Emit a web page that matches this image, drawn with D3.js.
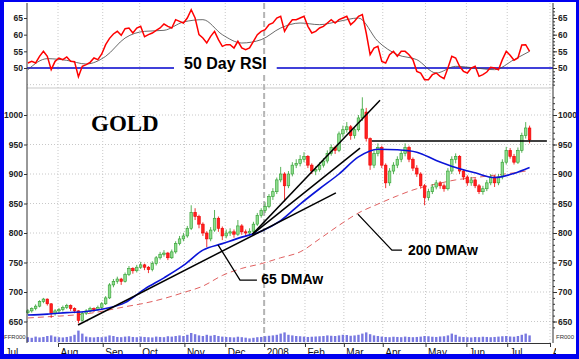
<!DOCTYPE html>
<html><head><meta charset="utf-8">
<script src="https://cdn.jsdelivr.net/npm/d3@7"></script>
<style>body{margin:0;background:#fff}svg{display:block}</style>
</head><body>
<svg id="c" width="579" height="359" font-family="Arial, 'Liberation Sans', sans-serif"></svg>
<script>
// ---------- DATA ----------
const monthDays   = [-21, 0, 23, 42, 65, 86, 106, 127, 147, 167, 189, 210, 231, 253]; // trading-day index (0 = 1 Aug 2007)
const monthLabels = ["Jul","Aug","Sep","Oct","Nov","Dec","2008","Feb","Mar","Apr","May","Jun","Jul","Aug"];
const yearDay = 106;
const priceTicks = [650, 700, 750, 800, 850, 900, 950, 1000];
const rsiTicks = [50, 55, 60, 65];
const firstDay = -16;   // each bar = 2 trading days
const barDays = 2;

const open  = [665,668,672,676,684,688,680,664,668,670,674,677,672,668,652,664,668,672,670,674,
               680,690,712,718,722,718,730,740,736,742,746,742,738,748,758,764,766,758,768,782,
               790,795,808,835,828,815,800,790,805,825,808,795,800,802,798,812,802,800,803,815,
               830,838,845,862,870,890,900,880,900,915,918,925,930,915,905,908,915,922,935,945,
               940,968,975,980,965,975,995,1005,960,915,935,945,915,885,905,915,925,935,945,925,
               910,900,880,860,870,878,885,880,875,905,925,930,905,895,885,890,880,870,875,885,
               895,885,895,920,940,930,920,940,965,978];
const high  = [671,674,679,686,690,689,681,671,673,677,680,679,674,669,667,671,675,674,677,683,
               693,715,722,726,724,733,744,742,746,751,748,744,752,761,768,771,768,772,786,795,
               800,812,847,842,831,818,803,810,839,828,811,806,808,806,822,815,806,808,819,834,
               842,852,866,876,894,912,903,905,920,925,932,937,932,918,913,920,927,940,950,948,
               972,982,988,983,980,1000,1030,1012,962,940,952,948,918,910,920,930,940,952,948,928,
               915,903,883,875,883,890,888,884,910,930,935,932,908,898,895,893,883,880,890,900,
               898,900,925,946,944,934,945,970,988,982];
const low   = [662,665,669,674,681,677,656,660,664,667,671,668,664,647,650,661,665,666,668,671,
               678,688,708,714,712,716,727,731,733,739,737,732,735,745,755,760,754,756,765,779,
               786,792,805,822,808,795,776,786,802,802,788,791,795,792,795,797,794,796,800,812,
               826,834,842,856,866,886,853,876,896,910,913,920,910,900,898,904,911,918,931,934,
               937,962,970,958,960,972,990,955,907,910,930,910,876,880,900,910,920,930,920,905,
               895,875,847,855,866,874,875,870,872,900,918,900,890,880,880,876,866,865,871,881,
               878,881,891,916,926,916,917,936,960,952];
const close = [668,672,676,684,688,680,664,668,670,674,677,672,668,652,664,668,672,670,674,680,
               690,712,718,722,718,730,740,736,742,746,742,738,748,758,764,766,758,768,782,790,
               795,808,835,828,815,800,790,805,825,808,795,800,802,798,812,802,800,803,815,830,
               838,845,862,870,890,900,880,900,915,918,925,930,915,905,908,915,922,935,945,940,
               968,975,980,965,975,995,1010,960,915,935,945,915,885,905,915,925,935,945,925,910,
               900,880,860,870,878,885,880,875,905,925,930,905,895,885,890,880,870,875,885,895,
               885,895,920,940,930,920,940,965,978,958];
const volume = [40,35,45,38,42,50,55,45,40,38, 42,48,60,95,70,45,40,38,42,40,
                45,55,50,42,40,45,48,42,40,45, 42,40,38,45,42,40,48,45,50,55,
                50,60,75,65,55,50,60,52,58,50, 45,42,40,38,44,40,36,30,35,40,
                42,48,52,55,60,70,80,60,55,50, 48,45,42,44,46,48,50,55,52,50,
                55,60,58,52,55,60,70,80,65,55, 50,45,42,40,44,42,40,45,42,40,
                42,45,50,48,44,42,46,48,55,70, 60,45,42,40,38,42,40,44,42,40,
                42,45,48,50,46,44,50,60,70,55];
const rsi = [51.5,52,51.5,53.5,55,53.5,49.5,52,53,52.5, 53.3,52,51.9,47.4,50.5,51,51.7,53,52.5,54.2,
             57,58.9,60.2,61,59.8,61.8,62,60.5,62,62.5, 59.4,60,60.5,61.3,62,63.2,62.5,62,64.5,64,
             63.5,65,67.5,65,60,59,57.5,59.5,61,58.5, 56.5,57,57,56,58,56,55.5,56,58,60,
             61,61.5,63,63.5,65,65.5,61,63,64.5,64.5, 65,65.5,62.5,60.5,61,62,62.5,63.5,64.5,63.5,
             64.5,65,65.5,63,64,65.5,66,60.5,54,56, 56.5,52,51.5,54,55,53.5,55,55,54,52.5,
             49,48.5,46.5,46.5,48,48.5,47.5,46.8,50,53.5, 53,50.5,49,48.5,50,50.5,47.5,48,48.8,50.2,
             50,49.5,52.5,55,53.8,52.3,53,56.9,57,55];
// smoothed series sampled at these bar numbers
const sampleBars = [0,5,10,15,20,25,30,35,40,45,50,55,60,65,70,75,80,85,90,95,100,105,110,115,120,125,129];
const rsiSignal  = [49.5,52.8,52.3,51.2,53.5,59,61,61.3,63.8,64.5,60,57.5,58.5,62,63.5,63,64,65,58,54,52.5,48.5,50.5,50,49.5,52.5,55];
const ma65  = [661,662.5,665,667,672,682,705,724,745,771,782,793,803,821,849,875,900,929,942,941,937,923,911,902,894,901,911];
const ma200 = [656,658,660,663,668.5,675,681,689,699,710,728,740,748,758,768,790,813,834,849,863,875,883,890,894,898,902,906];
// trend lines [day0, price0, day1, price1]
const trendLines = [[10.3,644,142.9,868],[100,798,155.3,944],[100,798,165.6,1025]];
const resistance = [161.4, 956, 251.4];
const ann65  = {pts:[[82.3,780],[93.6,720],[102.3,720]], text:"65 DMAw", at:[104.5,713.5]};
const ann200 = {pts:[[154.2,832],[171.7,771],[176.9,771]], text:"200 DMAw", at:[180,762.5]};

// ---------- SCALES ----------
const svg = d3.select("#c");
const L = 27, R = 553, TOP = 3, BOT = 343, SEP = 88;
const x = d3.scaleLinear().domain([0, 253]).range([58, 550]);
const yP = d3.scaleLinear().domain([650, 1000]).range([321.5, 115]);
const yR = d3.scaleLinear().domain([50, 65]).range([68, 18]);
const yV = d3.scaleLinear().domain([0, 100]).range([342, 330]);
const barX = k => x(firstDay + k*barDays + 0.5*(barDays-1));

svg.append("rect").attr("width",579).attr("height",359).attr("fill","#fff");
svg.append("defs").append("clipPath").attr("id","xclip").append("rect").attr("x",0).attr("y",330).attr("width",556).attr("height",29);

// ---------- GRID ----------
const grid = svg.append("g");
monthDays.forEach(d => {
  const xx = x(d); if (xx < L+1 || xx > R-1) return;
  const yr = d === yearDay;
  grid.append("line").attr("x1",xx).attr("x2",xx).attr("y1",TOP).attr("y2",BOT)
    .attr("stroke", yr ? "#b4b4b4" : "#c8c8c8").attr("stroke-width", yr ? 2 : 1)
    .attr("stroke-dasharray", yr ? "6,3" : "1,2");
});
priceTicks.forEach(v => grid.append("line").attr("x1",L).attr("x2",R).attr("y1",yP(v)).attr("y2",yP(v))
  .attr("stroke","#c8c8c8").attr("stroke-dasharray","1,2"));
[45].forEach(v => grid.append("line").attr("x1",L).attr("x2",R).attr("y1",yR(v)).attr("y2",yR(v))
  .attr("stroke","#c8c8c8").attr("stroke-dasharray","1,2"));
svg.append("line").attr("x1",L).attr("x2",R).attr("y1",SEP).attr("y2",SEP).attr("stroke","#bbb").attr("stroke-width",0.8);

// ---------- RSI PANEL ----------
const rsiG = svg.append("g");
rsiG.append("line").attr("x1",L).attr("x2",R).attr("y1",yR(50)).attr("y2",yR(50)).attr("stroke","#0000cc").attr("stroke-width",1.6);
rsiG.append("path").datum(rsiSignal).attr("fill","none").attr("stroke","#444").attr("stroke-width",0.8)
  .attr("d", d3.line().x((d,i)=>barX(sampleBars[i])).y(d=>yR(d)).curve(d3.curveMonotoneX));
rsiG.append("path").datum(rsi).attr("fill","none").attr("stroke","#ff0000").attr("stroke-width",1.5)
  .attr("d", d3.line().x((d,i)=>barX(i)).y(d=>yR(d)));
const lbl = rsiG.append("text").attr("x",184).attr("y",69).attr("font-size",16).attr("font-weight","bold").attr("fill","#000").text("50 Day RSI");
const bb = lbl.node().getBBox();
rsiG.insert("rect","text").attr("x",bb.x-10).attr("y",yR(50)-4).attr("width",bb.width+20).attr("height",8).attr("fill","#fff");

// ---------- VOLUME ----------
svg.append("g").selectAll("rect").data(volume).join("rect")
  .attr("x",(d,i)=>barX(i)-1.2).attr("width",2.4)
  .attr("y",d=>yV(d)).attr("height",d=>yV(0)-yV(d)).attr("fill","#7878e0");

// ---------- MAs & CANDLES ----------
const mline = d3.line().x((d,i)=>barX(sampleBars[i])).y(d=>yP(d)).curve(d3.curveMonotoneX);
svg.append("path").datum(ma200).attr("fill","none").attr("stroke","#e06060").attr("stroke-width",1)
  .attr("stroke-dasharray","6,4").attr("d", mline);

const cg = svg.append("g");
close.forEach((c,i) => {
  const o = open[i], up = c >= o, cx = barX(i);
  const col = up ? "#2e9e2e" : "#ee0000";
  cg.append("line").attr("x1",cx).attr("x2",cx).attr("y1",yP(high[i])).attr("y2",yP(low[i])).attr("stroke",col).attr("stroke-width",0.8);
  const y1 = yP(Math.max(o,c)), y2 = yP(Math.min(o,c));
  cg.append("rect").attr("x",cx-1.3).attr("width",2.6).attr("y",y1).attr("height",Math.max(1,y2-y1))
    .attr("fill", up ? "#8fdc8f" : "#ff2020").attr("stroke",col).attr("stroke-width",0.6);
});

svg.append("path").datum(ma65).attr("fill","none").attr("stroke","#0a14d8").attr("stroke-width",1.6).attr("d", mline);

// trend lines
trendLines.forEach(t => svg.append("line").attr("x1",x(t[0])).attr("y1",yP(t[1])).attr("x2",x(t[2])).attr("y2",yP(t[3]))
  .attr("stroke","#000").attr("stroke-width",1.5));
svg.append("line").attr("x1",x(resistance[0])).attr("x2",x(resistance[2])).attr("y1",yP(resistance[1])).attr("y2",yP(resistance[1]))
  .attr("stroke","#000").attr("stroke-width",1.5);

// annotations
[ann65, ann200].forEach(a => {
  svg.append("path").attr("fill","none").attr("stroke","#000").attr("stroke-width",1.3)
    .attr("d", d3.line().x(p=>x(p[0])).y(p=>yP(p[1]))(a.pts));
  svg.append("text").attr("x",x(a.at[0])).attr("y",yP(a.at[1])).attr("font-size",14).attr("font-weight","bold").attr("fill","#000").text(a.text);
});
svg.append("text").attr("x",91).attr("y",131).attr("font-family","'Liberation Serif','Times New Roman',serif")
  .attr("font-size",23).attr("font-weight","bold").attr("fill","#000").text("GOLD");

// ---------- AXES ----------
const fmt = d3.format("d");
function styleAxis(g){ g.select(".domain").remove(); g.selectAll("line").attr("stroke","#333");
  g.selectAll("text").attr("font-size",8.5).attr("font-weight","bold").attr("fill","#222").attr("font-family",null); }
svg.append("g").attr("transform",`translate(${L},0)`).call(d3.axisLeft(yP).tickValues(priceTicks).tickSize(3).tickPadding(1).tickFormat(fmt)).call(styleAxis);
svg.append("g").attr("transform",`translate(${L},0)`).call(d3.axisLeft(yR).tickValues(rsiTicks).tickSize(3).tickPadding(1).tickFormat(fmt)).call(styleAxis);
svg.append("g").attr("transform",`translate(${R},0)`).call(d3.axisRight(yP).tickValues(priceTicks).tickSize(4).tickPadding(1).tickFormat(fmt)).call(styleAxis);
svg.append("g").attr("transform",`translate(${R},0)`).call(d3.axisRight(yR).tickValues(rsiTicks).tickSize(4).tickPadding(1).tickFormat(fmt)).call(styleAxis);
svg.append("g").attr("transform",`translate(${R},0)`).call(d3.axisRight(yP).tickValues(d3.range(640,1040,10)).tickSize(2).tickFormat("")).call(styleAxis);
svg.append("g").attr("transform",`translate(${R},0)`).call(d3.axisRight(yR).tickValues(d3.range(45,69,1)).tickSize(2).tickFormat("")).call(styleAxis);
svg.append("line").attr("x1",L).attr("x2",L).attr("y1",TOP).attr("y2",BOT).attr("stroke","#333");
svg.append("line").attr("x1",R).attr("x2",R).attr("y1",TOP).attr("y2",BOT).attr("stroke","#333");

const xa = svg.append("g").attr("clip-path","url(#xclip)").append("g").attr("transform",`translate(0,${BOT})`)
  .call(d3.axisBottom(x).tickValues(monthDays).tickSize(4).tickFormat((d,i)=>monthLabels[i]));
xa.select(".domain").attr("stroke","#333");
xa.selectAll("line").attr("stroke","#333");
xa.selectAll(".tick").each(function(d){ if (x(d) < L) d3.select(this).select("line").remove(); });
xa.selectAll("text").attr("font-size",10).attr("fill","#111").attr("font-family",null).attr("text-anchor","start").attr("x",2).attr("dy","0.6em")
  .each(function(d){ if (x(d) < L) d3.select(this).attr("x", 5 - x(d)); });
svg.append("text").attr("x",4).attr("y",339).attr("font-size",6).attr("fill","#333").text("FFR000");
svg.append("text").attr("x",556).attr("y",339).attr("font-size",6).attr("fill","#333").text("FR000");

// ---------- FRAME ----------
svg.append("rect").attr("x",0).attr("y",0).attr("width",4).attr("height",359).attr("fill","#0000f0");
svg.append("rect").attr("x",0).attr("y",0).attr("width",579).attr("height",2).attr("fill","#0000f0");
svg.append("rect").attr("x",576).attr("y",0).attr("width",3).attr("height",359).attr("fill","#0000f0");
svg.append("rect").attr("x",0).attr("y",354).attr("width",579).attr("height",5).attr("fill","#0000f0");
</script>
</body></html>
